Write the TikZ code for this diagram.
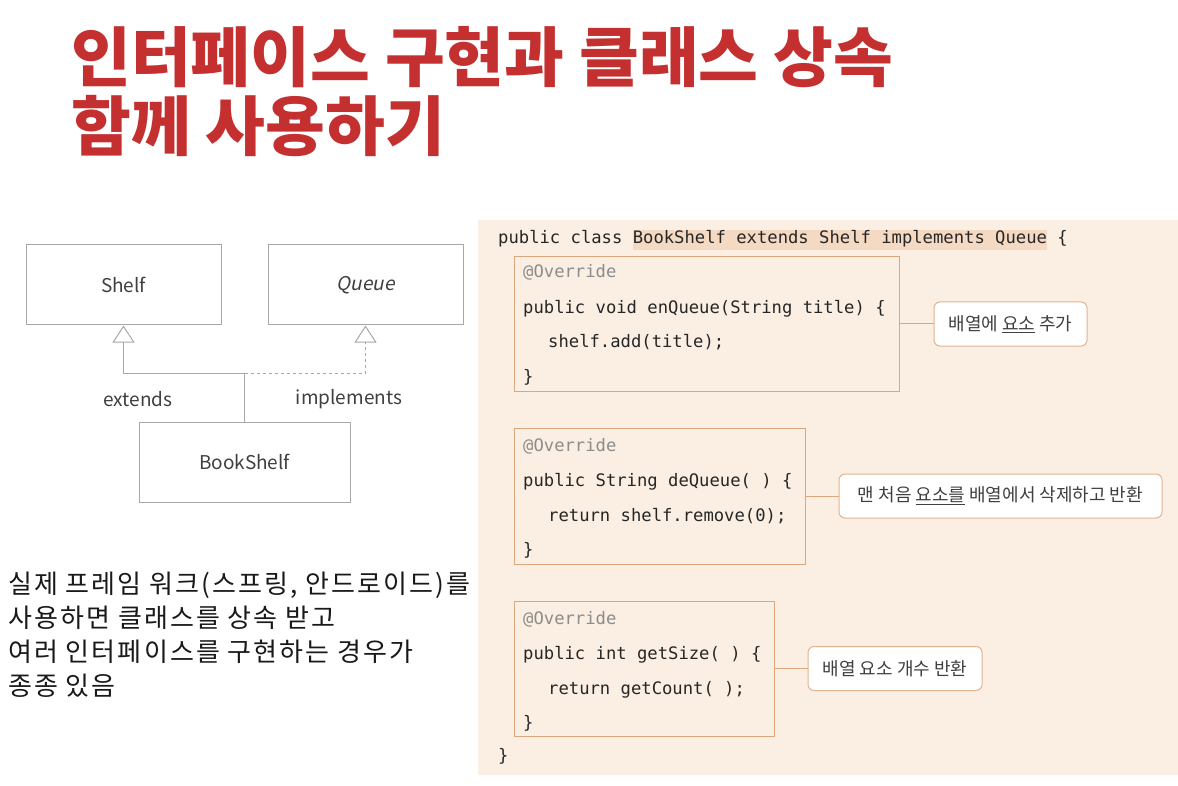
\documentclass[tikz,border=0pt]{standalone}
\usepackage{fontspec}
\usepackage{xcolor}
\usetikzlibrary{arrows.meta,positioning}

\newfontfamily\krfont{Noto Sans CJK KR}
\newfontfamily\krslant{Noto Sans CJK KR}[FakeSlant=0.2]
\newfontfamily\krwide{Noto Sans CJK KR}[LetterSpace=8]
\setmonofont{DejaVu Sans Mono}

\definecolor{titlered}{HTML}{C3302F}
\definecolor{umlgray}{HTML}{A8A8A8}
\definecolor{panelbg}{HTML}{FBEFE3}
\definecolor{hilite}{HTML}{F5DAC3}
\definecolor{boxtan}{HTML}{DCA77C}
\definecolor{codegray}{HTML}{8C8C8C}

\begin{document}
\begin{tikzpicture}[x=1pt,y=-1pt,
    umlbox/.style={draw=umlgray,line width=1pt,minimum width=195pt,minimum height=80pt,
      font=\krfont\fontsize{19}{22}\selectfont,text=black!75},
    umlline/.style={draw=umlgray,line width=1pt},
    umllabel/.style={font=\krfont\fontsize{19}{22}\selectfont,text=black!75},
    methodbox/.style={draw=boxtan,line width=1pt},
    codeln/.style={anchor=base west,inner sep=0pt,font=\ttfamily\fontsize{17.2}{20}\selectfont,text=black!85},
    annot/.style={anchor=base west,inner sep=0pt,font=\ttfamily\fontsize{17.2}{20}\selectfont,text=codegray},
    note/.style={draw=boxtan!85,line width=1pt,fill=white,rounded corners=6pt,minimum height=44pt,
      font=\krfont\fontsize{18}{21}\selectfont,text=black!75},
    heading/.style={anchor=west,inner sep=0pt,font=\krfont\bfseries\fontsize{65}{70}\selectfont,text=titlered},
    remark/.style={anchor=west,inner sep=0pt,font=\krwide\fontsize{26}{29}\selectfont,text=black!90}]

  \useasboundingbox[fill=white] (0,0) rectangle (1178,786);

  % title
  \node[heading] (title1) at (71,57) {인터페이스 구현과 클래스 상속};
  \node[heading] (title2) at (71,126) {함께 사용하기};

  % class diagram
  \node[umlbox] (shelf) at (123.5,285) {Shelf};
  \node[umlbox] (queue) at (365.5,285) {\krslant Queue};
  \node[umlbox,minimum width=211pt] (bookshelf) at (244.5,462) {BookShelf};
  \coordinate (junc) at (244.5,373);
  \draw[umlline] (bookshelf.north) -- (junc);
  \draw[umlline,-{Triangle[open,length=17pt,width=22pt,fill=white]}] (junc) -| (shelf.south);
  \draw[umlline,dashed,-{Triangle[open,length=17pt,width=22pt,fill=white]}] (junc) -| (queue.south);
  \node[umllabel] (ext) at (138,399) {extends};
  \node[umllabel] (impl) at (349,399) {implements};

  % remark
  \node[remark] (r1) at (8,585) {실제 프레임 워크(스프링, 안드로이드)를};
  \node[remark] (r2) at (8,618) {사용하면 클래스를 상속 받고};
  \node[remark] (r3) at (8,652) {여러 인터페이스를 구현하는 경우가};
  \node[remark] (r4) at (8,686) {종종 있음};

  % code panel
  \fill[panelbg] (478,220) rectangle (1178,775);
  \node[codeln] (cls) at (498,244)
    {public class {\setlength\fboxsep{0pt}\colorbox{hilite}{\strut BookShelf extends Shelf implements Queue}} \{};

  % enQueue
  \node[methodbox,minimum width=385pt,minimum height=134pt] (enq) at (706.5,324) {};
  \node[annot] (enq1) at (523,278) {@Override};
  \node[codeln] (enq2) at (523,313) {public void enQueue(String title) \{};
  \node[codeln] (enq3) at (548,347) {shelf.add(title);};
  \node[codeln] (enq4) at (523,382) {\}};
  \node[note,minimum width=153pt] (enqnote) at (1010.5,324) {배열에 \underline{요소} 추가};
  \draw[boxtan,line width=1pt] (enq) -- (enqnote);

  % deQueue
  \node[methodbox,minimum width=291pt,minimum height=136pt] (deq) at (659.5,496) {};
  \node[annot] (deq1) at (523,451) {@Override};
  \node[codeln] (deq2) at (523,486) {public String deQueue( ) \{};
  \node[codeln] (deq3) at (548,521) {return shelf.remove(0);};
  \node[codeln] (deq4) at (523,555) {\}};
  \node[note,minimum width=323pt] (deqnote) at (1000.5,496) {맨 처음 \underline{요소를} 배열에서 삭제하고 반환};
  \draw[boxtan,line width=1pt] (deq) -- (deqnote);

  % getSize
  \node[methodbox,minimum width=260pt,minimum height=135pt] (size) at (644,668.5) {};
  \node[annot] (size1) at (523,624) {@Override};
  \node[codeln] (size2) at (523,659) {public int getSize( ) \{};
  \node[codeln] (size3) at (548,694) {return getCount( );};
  \node[codeln] (size4) at (523,728) {\}};
  \node[note,minimum width=174pt] (sizenote) at (895,668.5) {배열 요소 개수 반환};
  \draw[boxtan,line width=1pt] (size) -- (sizenote);

  \node[codeln] (clsend) at (498,761) {\}};
\end{tikzpicture}
\end{document}
